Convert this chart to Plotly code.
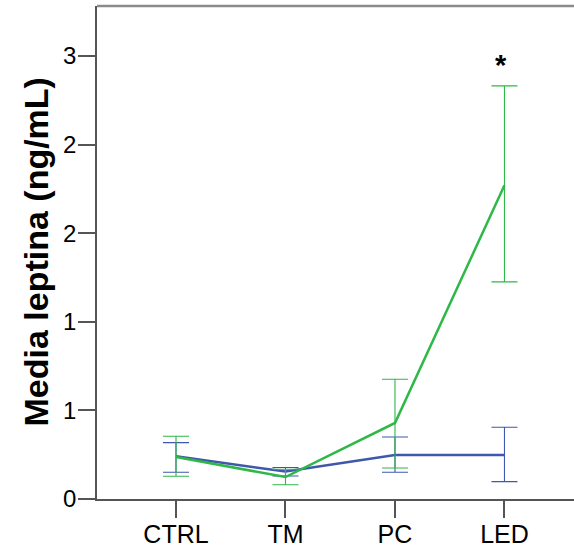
import plotly.graph_objects as go

categories = ["CTRL", "TM", "PC", "LED"]

blue_mean = [0.241, 0.155, 0.248, 0.248]
blue_upper = [0.318, 0.178, 0.350, 0.405]
blue_lower = [0.151, 0.130, 0.151, 0.098]

green_mean = [0.237, 0.124, 0.429, 1.770]
green_upper = [0.354, 0.168, 0.676, 2.331]
green_lower = [0.128, 0.080, 0.175, 1.225]

tick_vals = [0, 0.5, 1.0, 1.5, 2.0, 2.5]
tick_text = ["0", "1", "1", "2", "2", "3"]

BLUE = "#3E58AC"
GREEN = "#2EB848"
FONT = "Liberation Sans, Arial, sans-serif"

fig = go.Figure()

for mean, up, lo, col in [(blue_mean, blue_upper, blue_lower, BLUE),
                          (green_mean, green_upper, green_lower, GREEN)]:
    fig.add_trace(go.Scatter(
        x=categories, y=mean, mode="lines",
        line=dict(color=col, width=2.5),
        error_y=dict(type="data", symmetric=False,
                     array=[u - m for u, m in zip(up, mean)],
                     arrayminus=[m - l for m, l in zip(mean, lo)],
                     color=col, thickness=1.1, width=13),
        showlegend=False, hoverinfo="skip",
    ))

fig.add_annotation(x="LED", y=green_upper[3], text="<b>*</b>", showarrow=False,
                   yanchor="bottom", yshift=3, xshift=-3,
                   font=dict(family=FONT, size=29, color="black"))

fig.add_annotation(xref="paper", yref="paper", x=(35 - 97) / 477, y=0.5,
                   text="<b>Media leptina (ng/mL)</b>", textangle=-90,
                   showarrow=False, xanchor="center", yanchor="middle",
                   font=dict(family=FONT, size=34, color="black"))

fig.add_shape(type="line", xref="paper", yref="paper", x0=0, x1=1, y0=1, y1=1,
              line=dict(color="#8a8a8a", width=2.5))

fig.update_layout(
    width=574, height=551,
    margin=dict(l=97, r=0, t=6, b=52),
    plot_bgcolor="white", paper_bgcolor="white",
    font=dict(family=FONT, size=24, color="black"),
    xaxis=dict(type="category", range=[-0.7215, 3.635],
               showline=True, linecolor="#555555", linewidth=1.5,
               ticks="outside", ticklen=17, tickwidth=1.5, tickcolor="#555555",
               ticklabelstandoff=-5,
               showgrid=False, zeroline=False,
               tickfont=dict(family=FONT, size=25, color="black")),
    yaxis=dict(range=[0, 2.782], tickvals=tick_vals, ticktext=tick_text,
               showline=True, linecolor="#555555", linewidth=1.5,
               ticks="outside", ticklen=17, tickwidth=1.5, tickcolor="#555555",
               ticklabelstandoff=-3,
               showgrid=False, zeroline=False,
               tickfont=dict(family=FONT, size=24, color="black")),
)

fig.write_html("out.html", config={"displayModeBar": False},
               post_script="document.body.style.margin='0px';")
